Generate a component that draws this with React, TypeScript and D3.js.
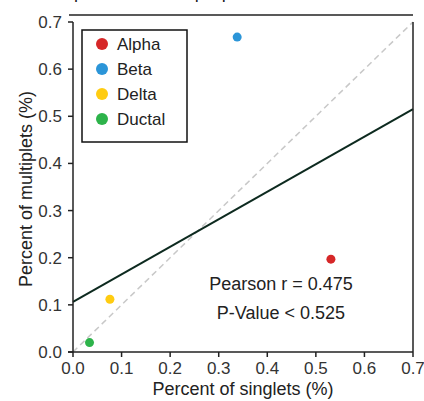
import React from "react";
import * as d3 from "d3";

const cellTypes = ["Alpha", "Beta", "Delta", "Ductal"];
const singletPct = [0.531, 0.338, 0.076, 0.034];
const multipletPct = [0.197, 0.668, 0.112, 0.02];
const colors = ["#d62728", "#2b95d8", "#ffcc11", "#2db34a"];
const ticks = [0, 0.1, 0.2, 0.3, 0.4, 0.5, 0.6, 0.7];
const pearsonText = "Pearson r = 0.475";
const pText = "P-Value < 0.525";
const titleText = "Comparison of cell proportions across conditions";

export default function App() {
  const W = 424, H = 401;
  const left = 73, right = 413, top = 22, bottom = 352;
  const x = d3.scaleLinear().domain([0, 0.7]).range([left, right]);
  const y = d3.scaleLinear().domain([0, 0.7]).range([bottom, top]);
  const mx = d3.mean(singletPct)!;
  const my = d3.mean(multipletPct)!;
  let sxy = 0, sxx = 0;
  singletPct.forEach((v, i) => {
    sxy += (v - mx) * (multipletPct[i] - my);
    sxx += (v - mx) * (v - mx);
  });
  const slope = sxy / sxx;
  const intercept = my - slope * mx;
  const font = "'Liberation Sans', Arial, sans-serif";
  const line = d3.line<number>().x((d) => x(d)).y((d) => y(intercept + slope * d));
  return (
    <svg width={W} height={H} style={{ position: "absolute", left: 0, top: 0 }} fontFamily={font}>
      <text x={35} y={-2} fontSize={18} fill="#222" letterSpacing={0.3}>{titleText}</text>
      <line x1={69} x2={right} y1={15} y2={15} stroke="#222" strokeWidth={1.5} />
      <line x1={x(0)} y1={y(0)} x2={x(0.7)} y2={y(0.7)} stroke="#c8c8c8" strokeWidth={1.5} strokeDasharray="6,4" />
      <path d={line([0, 0.7]) || ""} stroke="#0d2a1f" strokeWidth={2} fill="none" />
      {cellTypes.map((c, i) => (
        <circle key={c} cx={x(singletPct[i])} cy={y(multipletPct[i])} r={4.5} fill={colors[i]} />
      ))}
      <line x1={left} x2={left} y1={top} y2={bottom} stroke="#222" strokeWidth={1.5} />
      <line x1={right} x2={right} y1={top} y2={bottom} stroke="#222" strokeWidth={1.5} />
      <line x1={left - 5} x2={right} y1={bottom} y2={bottom} stroke="#222" strokeWidth={1.5} />
      {ticks.map((t) => (
        <g key={"x" + t}>
          <line x1={x(t)} x2={x(t)} y1={bottom} y2={bottom + 5} stroke="#222" strokeWidth={1.5} />
          <text x={x(t)} y={bottom + 22} textAnchor="middle" fontSize={17} fill="#333">{t.toFixed(1)}</text>
        </g>
      ))}
      {ticks.map((t) => (
        <g key={"y" + t}>
          <line x1={left - 5} x2={left} y1={y(t)} y2={y(t)} stroke="#222" strokeWidth={1.5} />
          <text x={left - 11} y={y(t) + 6} textAnchor="end" fontSize={17} fill="#333">{t.toFixed(1)}</text>
        </g>
      ))}
      <text x={243} y={395} textAnchor="middle" fontSize={18} fill="#222">Percent of singlets (%)</text>
      <text transform={`translate(32,${(top + bottom) / 2 + 2}) rotate(-90)`} textAnchor="middle" fontSize={18} fill="#222">Percent of multiplets (%)</text>
      <rect x={82} y={30} width={105} height={112} fill="white" stroke="#111" strokeWidth={1.5} />
      {cellTypes.map((c, i) => (
        <g key={"l" + c}>
          <circle cx={102} cy={44 + i * 25} r={6} fill={colors[i]} />
          <text x={117} y={50 + i * 25} fontSize={17} fill="#222">{c}</text>
        </g>
      ))}
      <text x={281} y={290} textAnchor="middle" fontSize={18} fill="#222">{pearsonText}</text>
      <text x={281} y={319} textAnchor="middle" fontSize={18} fill="#222">{pText}</text>
    </svg>
  );
}
